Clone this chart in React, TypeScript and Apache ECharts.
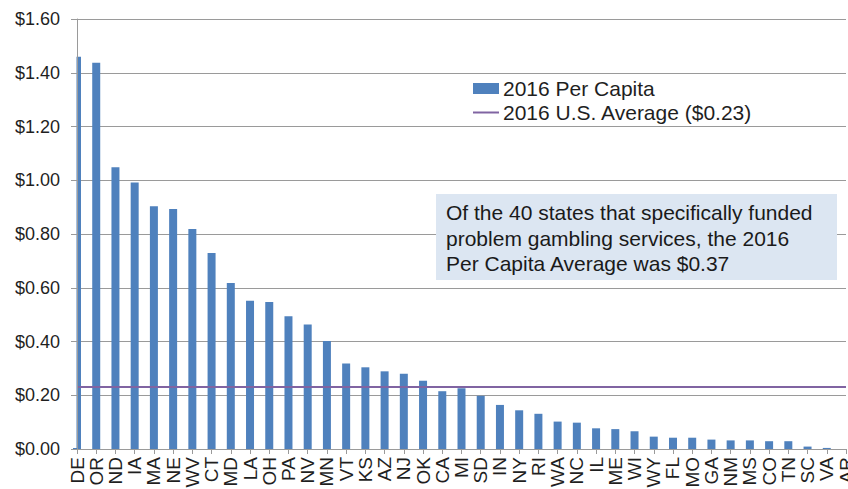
import React, { useEffect, useRef } from "react";
import * as echarts from "echarts";

const states = ["DE","OR","ND","IA","MA","NE","WV","CT","MD","LA","OH","PA","NV","MN","VT","KS","AZ","NJ","OK","CA","MI","SD","IN","NY","RI","WA","NC","IL","ME","WI","WY","FL","MO","GA","NM","MS","CO","TN","SC","VA","AR"];
const perCapita = [1.46,1.437,1.048,0.992,0.903,0.893,0.819,0.729,0.618,0.552,0.547,0.494,0.463,0.402,0.318,0.304,0.289,0.28,0.254,0.215,0.226,0.198,0.164,0.144,0.131,0.102,0.098,0.077,0.074,0.066,0.046,0.042,0.042,0.035,0.032,0.032,0.029,0.029,0.009,0.004,0];
const usAverage = 0.23;
const seriesNames = ["2016 Per Capita", "2016 U.S. Average ($0.23)"];
const noteLines = [
  "Of the 40 states that specifically funded",
  "problem gambling services, the 2016",
  "Per Capita Average was $0.37",
];

const FONT = "Liberation Sans, Arial, sans-serif";
const TEXT = "#1f1f1f";
const GRID = "#9a9a9a";
const BLUE = "#4F81BD";
const PURPLE = "#8064A2";

export default function App() {
  const ref = useRef<HTMLDivElement>(null);
  useEffect(() => {
    if (!ref.current) return;
    const chart = echarts.init(ref.current, null, { renderer: "svg" });
    const yCommon = { type: "value", min: 0, max: 1.6, interval: 0.2 };
    chart.setOption({
      animation: false,
      backgroundColor: "#ffffff",
      textStyle: { fontFamily: FONT },
      grid: { left: 77, right: 2, top: 19, bottom: 40, containLabel: false, outerBoundsMode: "none" },
      legend: {
        orient: "vertical",
        left: 473,
        top: 78,
        padding: 0,
        itemGap: 3,
        itemWidth: 26,
        itemHeight: 11,
        textStyle: { fontSize: 21, lineHeight: 20, color: TEXT, fontFamily: FONT, padding: [0, 0, 0, -1] },
        data: [
          { name: seriesNames[0], icon: "rect" },
          { name: seriesNames[1], icon: "path://M0,0 L26,0 L26,2 L0,2 Z" },
        ],
      },
      xAxis: {
        type: "category",
        data: states,
        boundaryGap: false,
        axisLine: { lineStyle: { color: GRID, width: 1 } },
        axisTick: { show: true, length: 5, lineStyle: { color: GRID } },
        axisLabel: { interval: 0, rotate: 90, margin: 8, fontSize: 19, color: TEXT, fontFamily: FONT },
        splitLine: { show: false },
        z: 10,
      },
      yAxis: [
        {
          ...yCommon,
          axisLine: { show: false },
          axisTick: { show: false },
          axisLabel: { show: false },
          splitLine: { show: true, lineStyle: { color: GRID, width: 1 } },
        },
        {
          ...yCommon,
          position: "left",
          z: 10,
          axisLine: { show: true, lineStyle: { color: GRID, width: 1 } },
          axisTick: { show: true, length: 6, lineStyle: { color: GRID } },
          axisLabel: {
            margin: 17,
            fontSize: 18,
            color: TEXT,
            fontFamily: FONT,
            formatter: (v: number) => "$" + v.toFixed(2),
          },
          splitLine: { show: false },
        },
      ],
      series: [
        {
          name: seriesNames[0],
          type: "bar",
          data: perCapita,
          yAxisIndex: 0,
          barWidth: 8,
          itemStyle: { color: BLUE },
        },
        {
          name: seriesNames[1],
          type: "line",
          data: [],
          yAxisIndex: 0,
          symbol: "none",
          lineStyle: { color: PURPLE, width: 2 },
          itemStyle: { color: PURPLE },
          markLine: {
            silent: true,
            symbol: ["none", "none"],
            label: { show: false },
            lineStyle: { color: PURPLE, width: 2, type: "solid" },
            data: [{ yAxis: usAverage }],
          },
        },
      ],
      graphic: [
        {
          type: "rect",
          left: 66,
          top: 19,
          shape: { width: 10.5, height: 429 },
          style: { fill: "#ffffff" },
          z: 5,
        },
        {
          type: "rect",
          left: 436,
          top: 194,
          shape: { width: 401, height: 86 },
          style: { fill: "#DCE6F2" },
          z: 20,
        },
        {
          type: "text",
          left: 446,
          top: 200,
          z: 21,
          style: {
            text: noteLines.join("\n"),
            fontSize: 21,
            lineHeight: 25.5,
            fill: "#1a1a1a",
            fontFamily: FONT,
          },
        },
      ],
    });
    return () => chart.dispose();
  }, []);
  return (
    <div
      ref={ref}
      style={{ position: "fixed", left: 0, top: 0, width: 848, height: 489 }}
    />
  );
}
